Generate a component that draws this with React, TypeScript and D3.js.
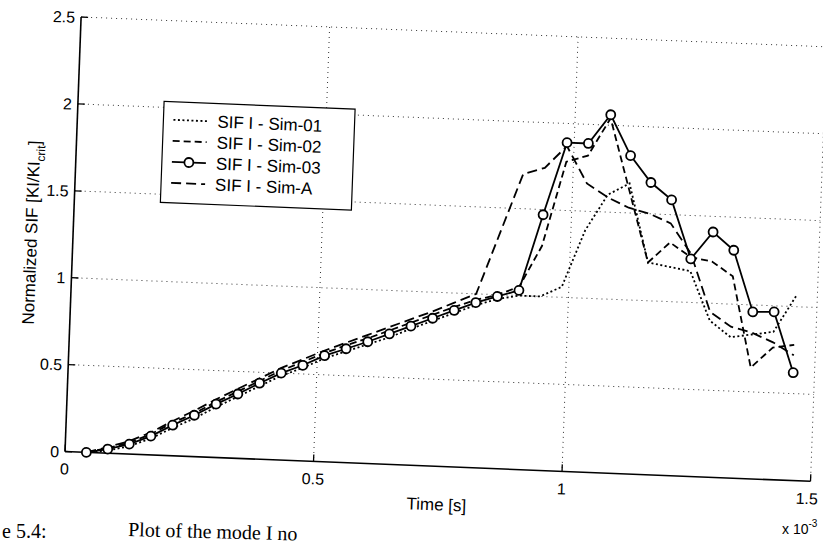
import React from "react";
import * as d3 from "d3";

// time in units of 1e-3 s
const times = [0.0429, 0.0857, 0.1286, 0.1714, 0.2143, 0.2571, 0.3, 0.3429, 0.3857, 0.4286, 0.4714, 0.5143, 0.5571, 0.6, 0.6429, 0.6857, 0.7286, 0.7714, 0.8143, 0.8571, 0.9, 0.9429, 0.9857, 1.0286, 1.0714, 1.1143, 1.1571, 1.2, 1.2429, 1.2857, 1.3286, 1.3714, 1.4143, 1.4571];

const sim01 = [0.0, 0.015, 0.045, 0.095, 0.16, 0.22, 0.29, 0.355, 0.42, 0.485, 0.535, 0.595, 0.64, 0.685, 0.73, 0.785, 0.835, 0.885, 0.935, 0.975, 1.0, 1.0, 1.06, 1.39, 1.6, 1.67, 1.22, 1.2, 1.18, 0.9, 0.81, 0.83, 0.85, 1.06];
const sim02 = [0.0, 0.03, 0.065, 0.12, 0.19, 0.25, 0.32, 0.385, 0.45, 0.515, 0.57, 0.625, 0.675, 0.72, 0.77, 0.82, 0.87, 0.92, 0.965, 1.0, 1.05, 1.29, 1.78, 1.82, 2.04, 1.63, 1.22, 1.34, 1.26, 1.24, 1.16, 0.64, 0.76, 0.78];
const sim03 = [0.0, 0.024, 0.057, 0.108, 0.176, 0.238, 0.307, 0.37, 0.437, 0.5, 0.55, 0.61, 0.655, 0.7, 0.75, 0.8, 0.85, 0.9, 0.95, 0.99, 1.03, 1.47, 1.89, 1.89, 2.06, 1.83, 1.68, 1.585, 1.25, 1.41, 1.31, 0.96, 0.965, 0.62];
const simA = [0.0, 0.035, 0.075, 0.13, 0.2, 0.265, 0.335, 0.4, 0.465, 0.53, 0.585, 0.64, 0.69, 0.74, 0.79, 0.84, 0.89, 0.945, 1.0, 1.35, 1.7, 1.74, 1.87, 1.66, 1.585, 1.53, 1.5, 1.45, 1.28, 0.95, 0.87, 0.84, 0.79, 0.72];

const seriesNames = ["SIF I - Sim-01", "SIF I - Sim-02", "SIF I - Sim-03", "SIF I - Sim-A"];
const xTicks = [0, 0.5, 1, 1.5];
const xTickLabels = ["0", "0.5", "1", "1.5"];
const yTicks = [0, 0.5, 1, 1.5, 2, 2.5];
const yTickLabels = ["0", "0.5", "1", "1.5", "2", "2.5"];

const W = 745.5;
const H = 434.5;
const FONT = "'Liberation Sans', Arial, Helvetica, sans-serif";

export default function App() {
  const xS = d3.scaleLinear().domain([0, 1.5]).range([0, W]);
  const yS = d3.scaleLinear().domain([0, 2.5]).range([H, 0]);
  const line = d3
    .line<number>()
    .x((_, i) => xS(times[i]))
    .y((d) => yS(d));

  const series = [
    { name: seriesNames[0], values: sim01, dash: "2,2.5", marker: false },
    { name: seriesNames[1], values: sim02, dash: "7,4", marker: false },
    { name: seriesNames[2], values: sim03, dash: "none", marker: true },
    { name: seriesNames[3], values: simA, dash: "10,5", marker: false },
  ];

  const legX = 86;
  const legY = 81;
  const legW = 191;
  const legH = 101;

  return (
    <svg
      width={823}
      height={544}
      style={{ position: "absolute", left: 0, top: 0, background: "#fff" }}
    >
      <rect x={0} y={0} width={823} height={544} fill="#fff" />
      <g transform="matrix(1,0.04,-0.037,1,81.1,17)" fontFamily={FONT}>
        {/* grid */}
        {yTicks.filter((t) => t > 0).map((t) => (
          <line key={"gy" + t} x1={0} x2={W} y1={yS(t)} y2={yS(t)} stroke="#333" strokeWidth={1} strokeDasharray="1,4" />
        ))}
        {xTicks.filter((t) => t > 0).map((t) => (
          <line key={"gx" + t} x1={xS(t)} x2={xS(t)} y1={0} y2={H} stroke="#333" strokeWidth={1} strokeDasharray="1,4" />
        ))}
        {/* axes */}
        <line x1={0} x2={0} y1={0} y2={H} stroke="#000" strokeWidth={1.6} />
        <line x1={0} x2={W} y1={H} y2={H} stroke="#000" strokeWidth={1.6} />
        {yTicks.map((t) => (
          <line key={"ty" + t} x1={0} x2={7} y1={yS(t)} y2={yS(t)} stroke="#000" strokeWidth={1.3} />
        ))}
        {xTicks.map((t) => (
          <line key={"tx" + t} x1={xS(t)} x2={xS(t)} y1={H} y2={H - 7} stroke="#000" strokeWidth={1.3} />
        ))}
        {yTicks.map((t, i) => (
          <text key={"ly" + t} x={-6} y={yS(t) + 6} fontSize={16} textAnchor="end" fill="#000">
            {yTickLabels[i]}
          </text>
        ))}
        {xTicks.map((t, i) => (
          <text key={"lx" + t} x={xS(t)} y={H + 23} fontSize={16} textAnchor={i === xTicks.length - 1 ? "end" : "middle"} dx={i === xTicks.length - 1 ? 8 : 0} fill="#000">
            {xTickLabels[i]}
          </text>
        ))}
        <text x={xS(0.75)} y={H + 44} fontSize={17} textAnchor="middle" fill="#000">
          Time [s]
        </text>
        <text
          transform={`translate(-36,${H / 2}) rotate(-90)`}
          fontSize={17}
          textAnchor="middle"
          fill="#000"
        >
          Normalized SIF [KI/KI<tspan dy={5} fontSize={12}>crit</tspan><tspan dy={-5}>]</tspan>
        </text>

        {/* data */}
        {series.map((s) => (
          <path
            key={s.name}
            d={line(s.values) || ""}
            fill="none"
            stroke="#000"
            strokeWidth={1.8}
            strokeDasharray={s.dash}
          />
        ))}
        {sim03.map((v, i) => (
          <circle key={"c" + i} cx={xS(times[i])} cy={yS(v)} r={4.5} fill="#fff" stroke="#000" strokeWidth={1.8} />
        ))}

        {/* legend */}
        <rect x={legX} y={legY} width={legW} height={legH} fill="#fff" stroke="#000" strokeWidth={1.2} />
        {series.map((s, i) => {
          const cy = legY + 18 + i * 21;
          return (
            <g key={"leg" + i}>
              <line x1={legX + 10} x2={legX + 44} y1={cy} y2={cy} stroke="#000" strokeWidth={1.8} strokeDasharray={s.dash} />
              {s.marker && <circle cx={legX + 27} cy={cy} r={4.5} fill="#fff" stroke="#000" strokeWidth={1.8} />}
              <text x={legX + 54} y={cy + 6} fontSize={17} fill="#000">
                {s.name}
              </text>
            </g>
          );
        })}
      </g>
      <text x={782} y={534} fontFamily={FONT} fontSize={14} fill="#000">
        x 10<tspan dy={-7} fontSize={10}>-3</tspan>
      </text>
      {/* caption fragment visible at the bottom of the scan */}
      <g fontFamily="'Liberation Serif', 'Times New Roman', serif" fontSize={20} fill="#000">
        <text x={2} y={538}>e 5.4:</text>
        <text x={128} y={536} transform="rotate(1.5,128,536)">Plot of the mode I no</text>
      </g>
    </svg>
  );
}
